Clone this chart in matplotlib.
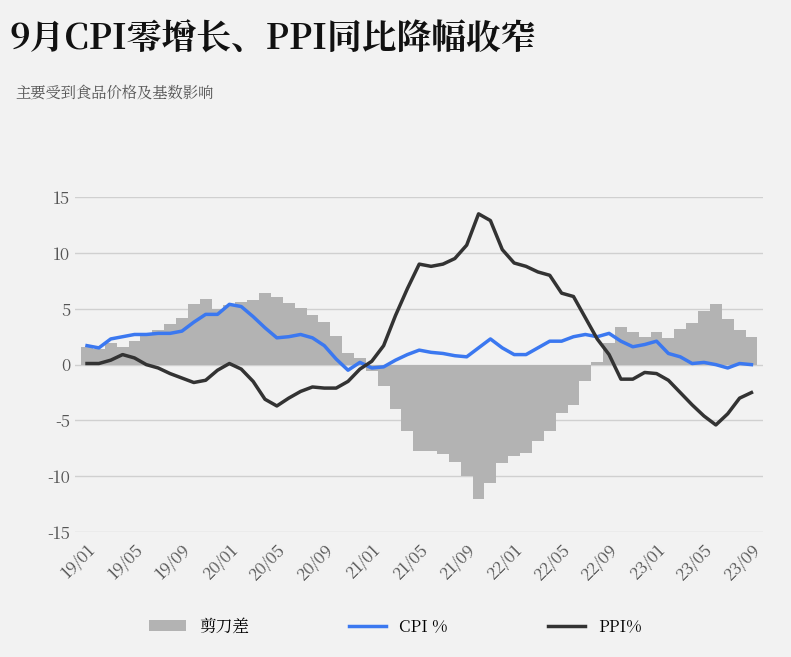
import matplotlib
matplotlib.use("Agg")
import matplotlib.pyplot as plt
from matplotlib import font_manager as fm
import numpy as np

cands = [f.name for f in fm.fontManager.ttflist if "CJK" in f.name]
pref = [n for n in cands if n.endswith("SC")] or cands
plt.rcParams["font.family"] = "sans-serif"
plt.rcParams["font.sans-serif"] = (pref[:1] if pref else []) + ["Noto Sans CJK SC", "DejaVu Sans"]
plt.rcParams["axes.unicode_minus"] = False

months = [f"{y:02d}/{m:02d}" for y in range(19, 24) for m in range(1, 13)][:57]
cpi = [1.7,1.5,2.3,2.5,2.7,2.7,2.8,2.8,3.0,3.8,4.5,4.5,
       5.4,5.2,4.3,3.3,2.4,2.5,2.7,2.4,1.7,0.5,-0.5,0.2,
       -0.3,-0.2,0.4,0.9,1.3,1.1,1.0,0.8,0.7,1.5,2.3,1.5,
       0.9,0.9,1.5,2.1,2.1,2.5,2.7,2.5,2.8,2.1,1.6,1.8,
       2.1,1.0,0.7,0.1,0.2,0.0,-0.3,0.1,0.0]
ppi = [0.1,0.1,0.4,0.9,0.6,0.0,-0.3,-0.8,-1.2,-1.6,-1.4,-0.5,
       0.1,-0.4,-1.5,-3.1,-3.7,-3.0,-2.4,-2.0,-2.1,-2.1,-1.5,-0.4,
       0.3,1.7,4.4,6.8,9.0,8.8,9.0,9.5,10.7,13.5,12.9,10.3,
       9.1,8.8,8.3,8.0,6.4,6.1,4.2,2.3,0.9,-1.3,-1.3,-0.7,
       -0.8,-1.4,-2.5,-3.6,-4.6,-5.4,-4.4,-3.0,-2.5]
scissors = [1.6,1.4,1.9,1.6,2.1,2.7,3.1,3.6,4.2,5.4,5.9,5.0,
            5.3,5.6,5.8,6.4,6.1,5.5,5.1,4.4,3.8,2.6,1.0,0.6,
            -0.6,-1.9,-4.0,-5.9,-7.7,-7.7,-8.0,-8.7,-10.0,-12.0,-10.6,-8.8,
            -8.2,-7.9,-6.8,-5.9,-4.3,-3.6,-1.5,0.2,1.9,3.4,2.9,2.5,
            2.9,2.4,3.2,3.7,4.8,5.4,4.1,3.1,2.5]

bg = "#f2f2f2"
fig = plt.figure(figsize=(7.91, 6.57), dpi=100, facecolor=bg)
ax = fig.add_axes([0.095, 0.19, 0.87, 0.51], facecolor=bg)
x = np.arange(len(months))
b = ax.bar(x, scissors, width=1.0, color="#b3b3b3", label="剪刀差")
l1, = ax.plot(x, cpi, color="#3b78f0", lw=2.5, label="CPI %")
l2, = ax.plot(x, ppi, color="#333333", lw=2.5, label="PPI%")
ax.set_ylim(-15, 15)
ax.set_yticks(range(-15, 16, 5))
ax.set_xlim(-1, len(months))
ax.set_xticks(x[::4])
ax.set_xticklabels(months[::4], rotation=45, ha="right", rotation_mode="anchor")
ax.yaxis.grid(True, color="#d0d0d0", lw=1)
ax.set_axisbelow(True)
for s in ax.spines.values():
    s.set_visible(False)
ax.tick_params(length=0, labelsize=12, colors="#555555")
ax.tick_params(axis="x", pad=6)
fig.text(0.012, 0.925, "9月CPI零增长、PPI同比降幅收窄", fontsize=25, fontweight="bold", color="#111111")
fig.text(0.02, 0.85, "主要受到食品价格及基数影响", fontsize=11, color="#555555")
fig.legend(handles=[b, l1, l2], loc="lower center", bbox_to_anchor=(0.5, 0.01), ncol=3, frameon=False,
           fontsize=12, handlelength=2.2, columnspacing=6)
fig.savefig("out.png", dpi=100, facecolor=bg)
